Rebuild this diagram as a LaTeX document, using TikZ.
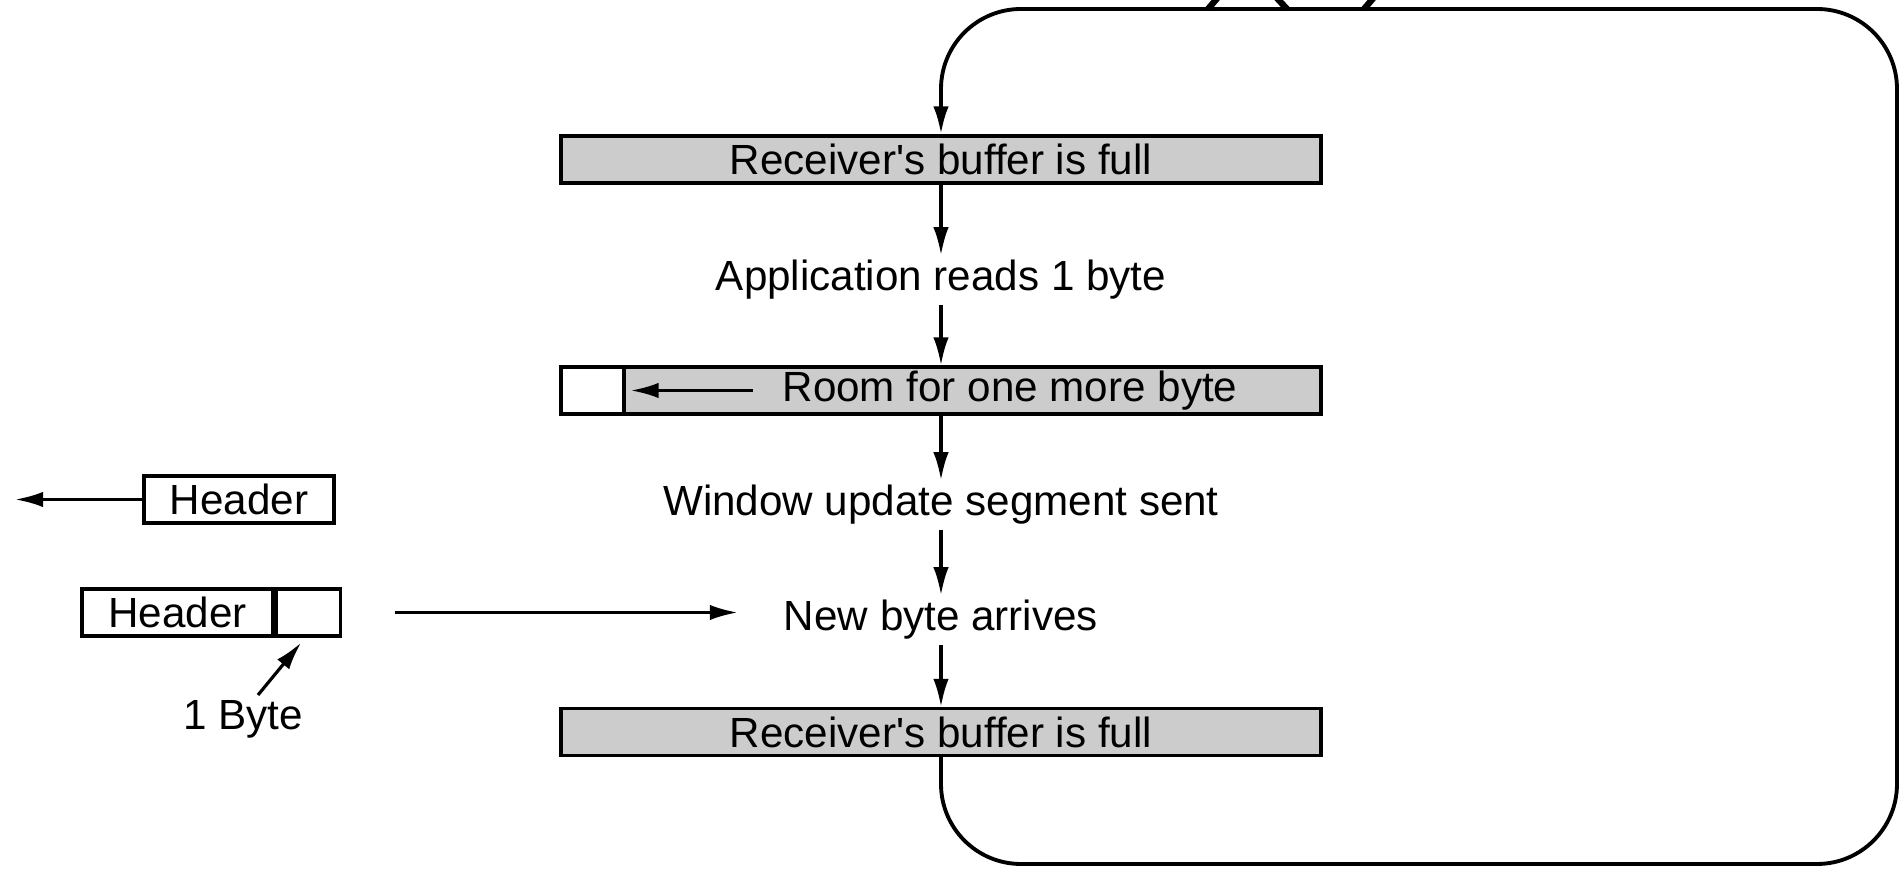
\documentclass[tikz,border=0pt]{standalone}
\usepackage{fontspec}
\setmainfont{Liberation Sans}
\usetikzlibrary{arrows.meta}

\begin{document}
\begin{tikzpicture}[>={Latex[length=8pt,width=4.4pt]}, line width=0.9pt,
  every node/.style={font=\fontsize{12}{14}\selectfont, inner sep=1pt},
  buf/.style={draw, fill=gray!40, minimum width=7.6cm, minimum height=0.47cm},
  hdr/.style={draw, fill=white, minimum height=0.47cm}]
\useasboundingbox (0,0) rectangle (19.01,8.69);
% cut off title strokes at the top
\draw[line width=1.8pt] (12.08,8.60) -- (12.20,8.74);
\draw[line width=1.8pt] (12.74,8.74) -- (12.87,8.60);
\draw[line width=1.8pt] (13.76,8.74) -- (13.64,8.60);
% receiver side
\node[buf] (full1) at (9.41,7.095) {Receiver\textquotesingle s buffer is full};
\node (app) at (9.41,5.89) {Application reads 1 byte};
\node[buf] (room) at (9.41,4.785) {};
\node[draw, fill=white, minimum width=0.63cm, minimum height=0.47cm, anchor=west] (free) at (room.west) {};
\node (roomtxt) at (10.10,4.785) {Room for one more byte};
\node (win) at (9.41,3.64) {Window update segment sent};
\node (arrive) at (9.41,2.49) {New byte arrives};
\node[buf] (full2) at (9.41,1.37) {Receiver\textquotesingle s buffer is full};
\draw[->] (full1) -- (app);
\draw[->] (app) -- (room);
\draw[->] (room) -- (win);
\draw[->] (win) -- (arrive);
\draw[->] (arrive) -- (full2);
\draw[->, shorten <=0.25cm, shorten >=0.05cm] (roomtxt.west) -- (free.east);
\coordinate (loopbr) at (18.97,0.05);
\coordinate (looptr) at (18.97,8.60);
\draw[->, line width=1.1pt, rounded corners=0.8cm] (full2.south) |- (loopbr) -- (looptr) -| (full1.north);
% sender side
\node[hdr, minimum width=1.90cm] (hdr1) at (2.39,3.695) {Header};
\coordinate (out) at (0.15,3.695);
\draw[->] (hdr1) -- (out);
\node[hdr, minimum width=1.91cm] (hdr2) at (1.775,2.565) {Header};
\node[hdr, minimum width=0.64cm, anchor=west] (cell2) at (hdr2.east) {};
\draw[->, shorten <=0.53cm, shorten >=0.41cm] (cell2.east) -- (cell2.east -| arrive.west);
\node (onebyte) at (2.43,1.50) {1 Byte};
\draw[->] ([xshift=0.15cm]onebyte.north) -- ([xshift=-0.07cm,yshift=-0.05cm]cell2.south);
\end{tikzpicture}
\end{document}
